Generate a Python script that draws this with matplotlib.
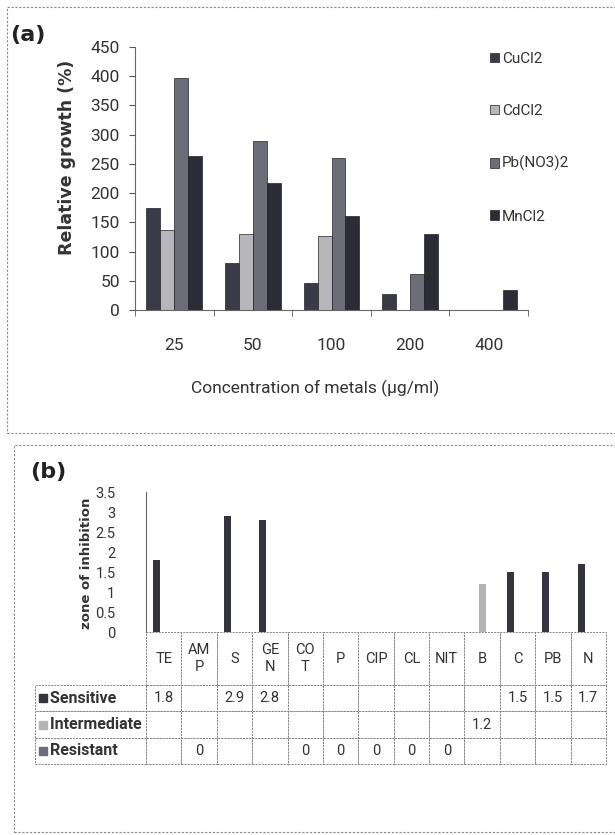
import numpy as np
import matplotlib.pyplot as plt
from matplotlib.patches import Rectangle
from matplotlib.ticker import FuncFormatter

# (a) relative growth of the isolate under heavy metals
conc = ['25', '50', '100', '200', '400']
metals = ['CuCl2', 'CdCl2', 'Pb(NO3)2', 'MnCl2']
cucl2 = [175, 80, 47, 28, 0]
cdcl2 = [137, 130, 127, 0, 0]
pbno3 = [397, 290, 260, 62, 0]
mncl2 = [263, 217, 160, 130, 35]
metal_colors = ['#3b3b47', '#b7b7bb', '#6d6d77', '#2c2c37']

# (b) antibiotic zone of inhibition
drugs = ['TE', 'AM\nP', 'S', 'GE\nN', 'CO\nT', 'P', 'CIP', 'CL', 'NIT', 'B', 'C', 'PB', 'N']
classes = ['Sensitive', 'Intermediate', 'Resistant']
sensitive = [1.8, None, 2.9, 2.8, None, None, None, None, None, None, 1.5, 1.5, 1.7]
intermediate = [None, None, None, None, None, None, None, None, None, 1.2, None, None, None]
resistant = [None, 0, None, None, 0, 0, 0, 0, 0, None, None, None, None]
zone_colors = ['#34343f', '#b3b3b3', '#6d6d77']

narrow = ['Roboto', 'DejaVu Sans']

fig = plt.figure(figsize=(6.15, 8.35), dpi=100)

# panel frames
fig.add_artist(Rectangle((7/615, 1-433/835), 640/615, 426/835, transform=fig.transFigure,
                         fill=False, ec='#8a8a8a', lw=0.8, ls=(0, (2, 1.5))))
fig.add_artist(Rectangle((14/615, 1-832/835), 640/615, 387/835, transform=fig.transFigure,
                         fill=False, ec='#8a8a8a', lw=0.8, ls=(0, (2, 1.5))))

# ---------------- (a)
ax = fig.add_axes([135/615, 1-310/835, 393/615, 263/835])
x = np.arange(len(conc))
w = 0.178
for k, (vals, c, lab) in enumerate(zip([cucl2, cdcl2, pbno3, mncl2], metal_colors, metals)):
    ax.bar(x + (k-1.5)*w, vals, w, color=c, label=lab, edgecolor='#202028', linewidth=0.5)
ax.set_xlim(-0.5, len(conc)-0.5)
ax.set_ylim(0, 450)
ax.set_yticks(range(0, 451, 50))
ax.set_xticks(x)
ax.set_xticklabels(conc)
ax.set_xticks(np.arange(-0.5, len(conc), 1), minor=True)
ax.tick_params(axis='x', which='major', length=0, pad=20)
ax.tick_params(axis='x', which='minor', length=4, direction='out', color='#555')
ax.tick_params(axis='y', length=4, direction='out', pad=7, color='#555')
for lbl in ax.get_xticklabels() + ax.get_yticklabels():
    lbl.set_family(narrow)
    lbl.set_fontsize(12.5)
    lbl.set_color('#333')
for s in ['top', 'right']:
    ax.spines[s].set_visible(False)
for s in ['left', 'bottom']:
    ax.spines[s].set_color('#666')
ax.set_ylabel('Relative growth (%)', fontsize=12.5, fontweight='bold', color='#333')
ax.yaxis.set_label_coords(-0.15, 0.58)
ax.set_xlabel('Concentration of metals (µg/ml)', fontsize=12.5, color='#333', va='center',
              family=narrow)
ax.xaxis.set_label_coords(0.458, -0.297)
leg = fig.legend(loc='upper left', bbox_to_anchor=(476/615, 1-38/835), frameon=False,
                 handlelength=0.6, handleheight=0.6, handletextpad=0.2, labelspacing=2.5,
                 prop={'family': narrow, 'size': 11})
for t in leg.get_texts():
    t.set_color('#333')
fig.text(10/615, 1-35/835, '(a)', fontsize=16, fontweight='bold', va='center', color='#222')

# ---------------- (b)
bx = fig.add_axes([146/615, 1-632/835, 460/615, 140/835])
pos = np.arange(len(drugs))
bw = 0.2
for k, (vals, c) in enumerate(zip([sensitive, intermediate, resistant], zone_colors)):
    hts = [0 if v is None else v for v in vals]
    bx.bar(pos + (k-1)*bw, hts, bw, color=c, linewidth=0)
bx.set_xlim(-0.5, len(drugs)-0.5)
bx.set_ylim(0, 3.5)
bx.set_yticks(np.arange(0, 3.51, 0.5))
bx.yaxis.set_major_formatter(FuncFormatter(lambda v, p: '{:g}'.format(v)))
bx.set_xticks([])
bx.tick_params(axis='y', length=0, pad=22)
for lbl in bx.get_yticklabels():
    lbl.set_family(narrow)
    lbl.set_fontsize(10.5)
    lbl.set_color('#333')
for s in ['top', 'right', 'bottom']:
    bx.spines[s].set_visible(False)
bx.spines['left'].set_color('#666')
bx.set_ylabel('zone of inhibition', fontsize=9.5, fontweight='bold', color='#333')
bx.yaxis.set_label_coords(-0.115, 0.49)
fig.text(30/615, 1-472/835, '(b)', fontsize=16, fontweight='bold', va='center', color='#222')


def fmt(v):
    return '' if v is None else '{:g}'.format(v)


label_w = 0.241
cell_text = [['   ' + name] + [fmt(v) for v in row]
             for name, row in zip(classes, (sensitive, intermediate, resistant))]
tbl = bx.table(cellText=cell_text, colLabels=[''] + drugs, cellLoc='center',
               colWidths=[label_w] + [1/len(drugs)] * len(drugs),
               bbox=[-label_w, -0.943, 1 + label_w, 0.943])
tbl.auto_set_font_size(False)
tbl.set_fontsize(10.5)
for (r, c), cell in tbl.get_celld().items():
    cell.set_height(0.379 if r == 0 else 0.188)
    cell.set_edgecolor('#808080')
    cell.set_linewidth(0.7)
    cell.set_linestyle((0, (2, 1.2)))
    cell.get_text().set_family(narrow)
    cell.get_text().set_color('#333')
    if c == 0:
        if r == 0:
            cell.set_visible(False)
        cell.PAD = 0.03
        cell.get_text().set_ha('left')
        cell._loc = 'left'
        cell.get_text().set_fontweight('bold')
        cell.get_text().set_fontsize(11.5)

fig.canvas.draw()
for r, col in zip(range(1, 4), zone_colors):
    cell = tbl[r, 0]
    bx.plot(cell.get_x() + 0.016, cell.get_y() + cell.get_height()/2, marker='s', ms=5.5,
            color=col, transform=bx.transAxes, clip_on=False)

fig.savefig('out.png', dpi=100)
